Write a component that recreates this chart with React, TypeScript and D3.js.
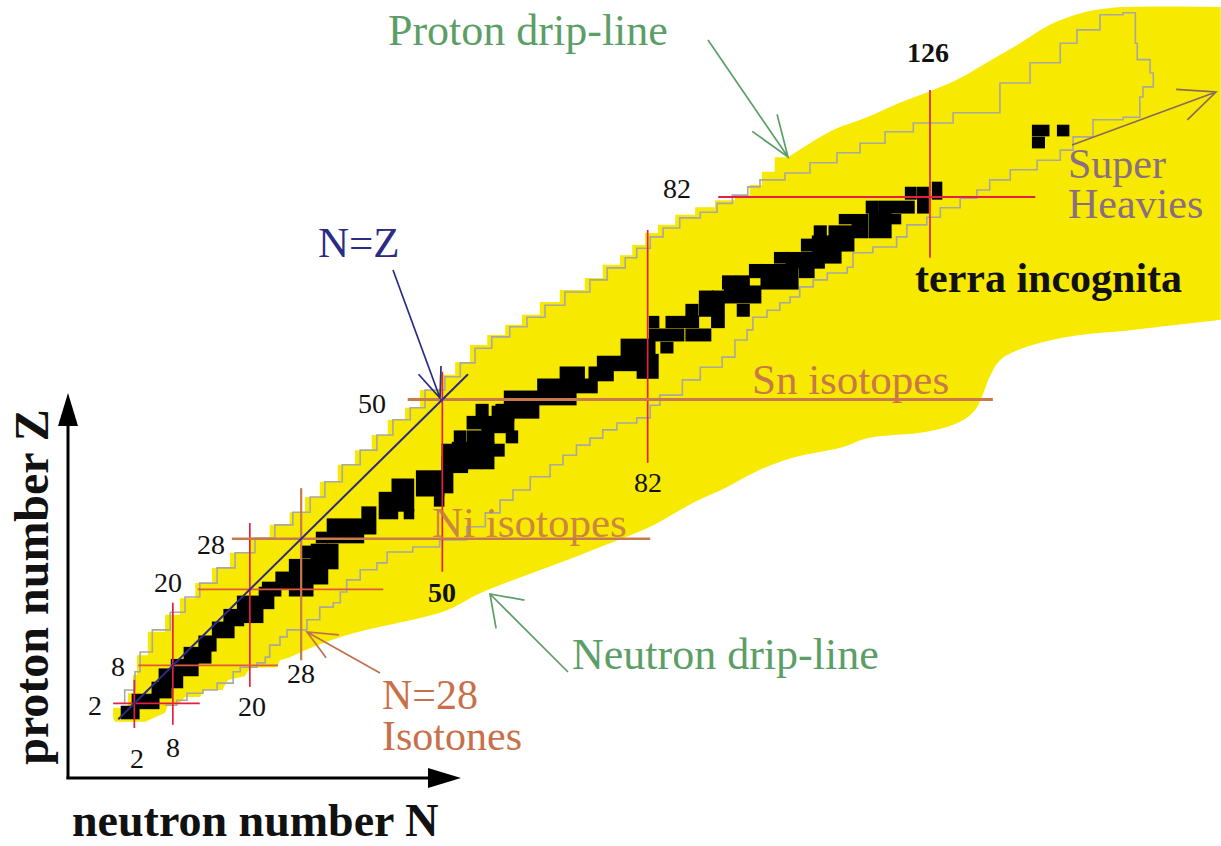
import React from "react";
import * as d3 from "d3";

type P = [number, number];
type Block = [number, number, number, number]; // N0, N1, Z0, Z1

const W = 1221;
const H = 846;

// ---- stable nuclei (black cells), in neutron number N / proton number Z ----
const stableBlocks: Block[] = [
  [0.1, 2.6, -0.3, 1.4], [1.8, 5.7, 1.3, 3.3], [4.9, 7.6, 3.0, 5.2], [6.0, 9.4, 4.6, 7.3],
  [7.9, 11.8, 6.5, 8.8], [9.9, 13.8, 8.5, 10.7], [12.2, 14.6, 10.4, 12.5], [14.3, 17.4, 12.5, 14.7],
  [16.1, 18.9, 14.4, 16.7], [18.2, 21.9, 14.9, 18.8], [21.6, 23.6, 17.1, 20.2], [22.1, 24.7, 19.1, 21.0],
  [24.2, 27.8, 20.2, 22.6], [26.3, 32.0, 21.0, 24.6], [26.3, 29.7, 19.1, 21.0], [28.3, 29.7, 25.1, 26.7],
  [29.7, 33.6, 23.4, 27.0], [30.5, 32.0, 27.5, 28.9], [32.2, 37.6, 27.5, 31.0], [37.6, 39.5, 28.9, 32.9],
  [40.3, 42.9, 31.3, 35.2], [42.3, 45.4, 32.5, 37.3], [44.2, 45.4, 31.3, 32.5], [46.1, 50.1, 34.9, 38.6],
  [48.9, 50.1, 33.3, 34.9], [50.1, 51.5, 35.4, 42.8], [50.1, 53.8, 38.6, 40.9], [54.0, 55.9, 39.2, 40.9],
  [56.2, 57.9, 39.2, 40.9], [51.7, 57.9, 41.2, 43.1], [57.9, 59.5, 41.2, 42.8], [52.0, 53.5, 43.3, 44.9],
  [54.0, 57.9, 43.3, 44.9], [60.1, 61.6, 43.3, 44.9], [56.3, 61.0, 44.9, 46.8], [54.0, 57.9, 45.5, 47.2],
  [57.9, 61.0, 46.8, 48.8], [55.4, 57.0, 47.2, 49.1], [58.5, 64.9, 47.2, 49.1], [59.8, 70.7, 49.3, 51.2],
  [65.0, 74.0, 51.2, 53.1], [68.5, 72.0, 53.1, 55.0], [73.0, 76.5, 53.1, 55.0], [80.5, 83.5, 53.5, 57.0],
  [74.3, 80.8, 54.7, 56.7], [78.0, 83.0, 56.9, 59.4], [84.2, 85.8, 57.5, 58.9],
  [82.4, 87.5, 59.4, 61.0], [88.1, 91.7, 59.4, 61.0], [82.4, 83.6, 61.5, 63.0], [85.0, 89.8, 61.5, 63.0],
  [92.1, 93.8, 61.5, 63.0], [88.1, 89.7, 63.0, 64.9], [90.2, 93.8, 63.3, 65.4], [96.1, 97.7, 63.3, 64.9],
  [90.2, 92.1, 65.4, 67.0], [92.2, 93.8, 65.4, 67.0], [94.1, 99.5, 65.4, 67.8], [93.8, 95.6, 67.6, 69.4],
  [95.9, 97.7, 67.6, 69.4], [99.8, 105.3, 67.6, 71.2], [98.0, 99.8, 69.4, 71.2], [105.8, 107.8, 69.4, 71.2],
  [103.7, 109.4, 70.9, 73.1], [101.9, 103.7, 71.7, 73.1], [107.8, 112.0, 71.7, 75.7], [106.1, 107.8, 73.6, 75.2],
  [110.4, 114.0, 73.6, 77.3], [108.1, 109.7, 75.7, 77.3], [114.0, 116.2, 75.7, 79.1], [112.0, 113.9, 77.9, 79.1],
  [116.7, 119.8, 75.7, 79.5], [120.1, 121.3, 77.9, 79.1], [116.2, 117.8, 79.6, 81.2], [118.2, 123.4, 79.6, 81.2],
  [122.3, 123.7, 81.8, 83.4], [124.2, 125.6, 79.6, 83.4], [126.5, 127.7, 81.8, 84.2],
];
const superHeavyBlocks: Block[] = [
  [142.1, 144.4, 91.8, 93.2], [146.0, 147.5, 91.8, 93.2], [142.1, 143.7, 89.9, 91.3],
];

// ---- drip lines (outline of the yellow region) ----
const protonDripStairs: P[] = [
  [-1.3, -0.3], [1.0, 1.3], [1.8, 3.6], [2.4, 6.5], [4.1, 9.6], [6.8, 13.3], [9.1, 16.0], [11.5, 18.6],
  [14.1, 21.0], [16.9, 23.4], [20.0, 25.8], [23.1, 28.2], [26.2, 30.2], [28.6, 32.2], [30.9, 34.6],
  [33.7, 37.0], [36.4, 39.7], [39.0, 42.0], [41.5, 44.4], [44.2, 46.8], [46.5, 48.7], [49.6, 51.5],
  [52.0, 53.9], [54.3, 55.9], [57.0, 58.6], [59.8, 60.2], [62.4, 61.8], [65.2, 63.4], [68.3, 65.4],
  [72.2, 67.3], [75.0, 69.2], [77.7, 71.3], [79.6, 72.8], [81.6, 74.4], [83.6, 76.3], [86.3, 77.6],
  [89.4, 79.2], [92.5, 80.4], [95.6, 81.5], [97.9, 82.3], [99.8, 83.9], [101.8, 86.0], [103.9, 88.3],
];
const protonDripSmooth: P[] = [
  [107.3, 90.5], [110.9, 92.6], [116.2, 94.6], [121.3, 96.9], [126.5, 98.9], [130.7, 100.8],
  [134.3, 102.9], [139.6, 106.0], [144.7, 109.2], [149.8, 111.1], [154.5, 111.9], [171.3, 112.0],
];
const neutronDripSmooth: P[] = [
  [171.3, 62.6], [157.6, 61.0], [147.3, 59.9], [139.6, 57.8], [136.9, 56.2], [135.3, 53.6], [134.3, 51.0],
  [133.0, 48.3], [130.7, 46.5], [125.5, 44.9], [116.2, 43.9], [112.4, 42.5], [104.6, 40.8], [99.5, 38.9],
  [94.4, 36.2], [89.1, 33.7], [82.4, 29.9], [76.1, 27.3], [68.3, 24.2], [55.9, 19.4], [50.7, 16.7],
  [45.4, 15.2], [40.3, 14.1], [34.1, 12.5], [29.8, 10.9], [26.3, 9.3],
];
const neutronDripStairs: P[] = [
  [24.7, 8.8], [24.2, 7.7], [20.0, 7.6], [19.2, 6.3], [16.6, 5.7], [15.7, 4.1], [13.0, 4.1], [12.2, 3.0],
  [9.9, 3.0], [9.1, 2.1], [7.2, 1.7], [6.8, 0.5], [3.7, -0.9], [-1.0, -0.9],
];

// ---- limit of known nuclei (grey staircase) ----
const knownLimit: P[] = [
  [0.5, 2.1], [2.1, 4.1], [2.9, 7.0], [4.8, 10.1], [7.6, 13.6], [9.9, 16.4], [12.2, 18.8], [14.9, 21.0],
  [17.7, 23.4], [20.8, 25.8], [23.9, 28.1], [26.7, 30.2], [29.4, 32.2], [31.7, 34.6], [34.4, 37.0],
  [37.2, 39.7], [39.8, 42.0], [42.3, 44.4], [45.0, 46.8], [47.3, 48.7], [50.4, 51.5], [52.8, 53.6],
  [55.1, 55.8], [57.7, 58.1], [60.5, 59.9], [63.2, 61.5], [66.0, 63.0], [69.1, 64.9], [73.0, 67.0],
  [75.7, 68.9], [78.5, 70.8], [80.3, 72.4], [82.4, 73.9], [84.4, 75.7], [87.0, 77.1], [90.2, 78.7],
  [92.8, 79.6], [95.2, 81.0], [97.6, 82.3], [99.5, 83.6], [103.4, 84.7], [107.3, 85.8], [111.5, 87.4],
  [115.1, 89.0], [119.0, 90.5], [123.4, 92.3], [129.6, 93.7], [136.9, 95.3], [141.6, 100.0],
  [146.3, 103.2], [148.9, 106.3], [152.5, 108.4], [156.1, 110.8], [158.0, 111.1],
  [158.3, 106.3], [160.3, 103.7], [160.8, 101.6], [159.2, 99.4], [158.7, 97.8], [156.1, 94.6],
  [151.4, 94.2], [148.3, 91.5], [146.3, 89.4], [142.7, 87.8], [138.5, 86.3], [135.3, 84.7], [133.3, 83.1],
  [130.7, 81.8], [127.6, 80.3], [125.5, 78.8], [122.4, 77.6], [120.8, 75.7], [117.1, 74.1], [114.0, 73.2],
  [113.1, 70.9], [110.0, 70.0], [107.8, 68.9], [105.7, 67.8], [104.2, 66.2], [102.6, 65.3], [100.6, 64.1],
  [98.4, 63.0], [97.5, 61.0], [95.6, 59.4], [93.6, 56.7], [90.2, 55.1], [87.4, 53.1], [83.9, 50.7],
  [82.4, 49.1], [80.3, 47.1], [77.2, 46.3], [75.0, 45.2], [73.0, 43.9], [70.9, 42.8], [68.8, 41.2],
  [66.8, 39.7], [63.7, 37.8], [61.0, 35.7], [59.0, 34.1], [56.7, 32.1], [53.8, 29.9], [49.6, 27.8],
  [45.4, 26.7], [41.4, 25.9], [39.8, 24.2], [37.2, 23.1], [35.1, 21.5], [34.1, 19.6], [33.0, 17.9],
  [30.9, 17.2], [28.9, 15.2], [25.8, 13.6], [24.7, 12.5], [23.1, 11.2], [22.4, 9.3], [21.1, 8.4],
  [18.5, 7.7], [17.4, 7.0], [14.9, 5.2], [12.7, 4.1], [10.2, 3.6], [8.6, 2.5], [6.8, 1.7],
];

// ---- magic numbers ----
const magicN = [2, 8, 20, 28, 50, 82, 126];
const magicNSpanZ: P[] = [[-1.9, 5.7], [-1.4, 17.9], [4.6, 30.5], [8.8, 36.0], [22.8, 54.4], [40.0, 76.8], [72.4, 98.9]];
const magicZ = [2, 8, 20, 28, 50, 82];
const magicZSpanN: P[] = [[-1.3, 12.2], [2.6, 24.4], [11.9, 40.8], [17.2, 82.4], [44.6, 135.8], [93.0, 142.4]];
const nEqualsZRange: P = [-0.5, 54];

const FONT = "'Liberation Serif', 'Times New Roman', Times, serif";
const YELLOW = "#f7e900";
const RED = "#e3203f";
const ORANGE_RED = "#e05a40";
const BROWN = "#c97a4c";
const GREEN = "#5b9e66";
const NAVY = "#2b2b86";
const MAUVE = "#8a6f80";
const GRAY = "#a8a8a2";
const CELL_PAD = 0.22; // visual padding of each black cell, in data units

const nLineColor = (n: number) => (n === 28 ? BROWN : RED);
const zLineColor = (z: number) => (z === 28 || z === 50 ? BROWN : z === 8 || z === 20 ? ORANGE_RED : RED);
const zLineWidth = (z: number) => (z === 50 ? 3 : z === 28 ? 2.5 : 1.8);

// label layout (pixels)
const leftLabels: [string, number, number, boolean][] = [
  ["2", 95, 705, false], ["8", 118, 666, false], ["20", 168, 582, false], ["28", 211, 544, false],
  ["50", 372, 403, false], ["82", 677, 188, false], ["126", 928, 52, true],
];
const bottomLabels: [string, number, number, boolean][] = [
  ["2", 137, 758, false], ["8", 173, 747, false], ["20", 252, 706, false], ["28", 301, 673, false],
  ["50", 442, 592, true], ["82", 648, 482, false],
];

function arrowPath(x1: number, y1: number, x2: number, y2: number, len: number, angDeg: number) {
  const a = Math.atan2(y1 - y2, x1 - x2);
  const t = (angDeg * Math.PI) / 180;
  const b1 = [x2 + len * Math.cos(a + t), y2 + len * Math.sin(a + t)];
  const b2 = [x2 + len * Math.cos(a - t), y2 + len * Math.sin(a - t)];
  return `M${x1},${y1}L${x2},${y2}M${b1[0]},${b1[1]}L${x2},${y2}L${b2[0]},${b2[1]}`;
}

export default function App() {
  const x = d3.scaleLinear().domain([0, 126]).range([121.5, 930]);
  const y = d3.scaleLinear().domain([0, 82]).range([716, 197]);

  const lineStep = d3.line<P>().x((d) => x(d[0])).y((d) => y(d[1])).curve(d3.curveStepBefore);
  const lineSmooth = d3.line<P>().x((d) => x(d[0])).y((d) => y(d[1])).curve(d3.curveCatmullRom.alpha(0.5));
  const lineLin = d3.line<P>().x((d) => x(d[0])).y((d) => y(d[1]));

  const toL = (s: string | null) => (s || "").replace(/^M/, "L");
  const yellowD =
    (lineStep(protonDripStairs) || "") +
    toL(lineSmooth([protonDripStairs[protonDripStairs.length - 1], ...protonDripSmooth])) +
    toL(lineSmooth(neutronDripSmooth)) +
    toL(lineLin(neutronDripStairs)) +
    "Z";

  const knownD = lineStep(knownLimit) || "";

  const rect = (b: Block, i: number) => (
    <rect
      key={i}
      x={x(b[0] - CELL_PAD)}
      y={y(b[3] + CELL_PAD)}
      width={x(b[1] + CELL_PAD) - x(b[0] - CELL_PAD)}
      height={y(b[2] - CELL_PAD) - y(b[3] + CELL_PAD)}
      fill="#000"
    />
  );

  return (
    <svg width={W} height={H} style={{ position: "absolute", left: 0, top: 0, background: "#fff" }}>
      <rect x={0} y={0} width={W} height={H} fill="#fff" />
      <path d={yellowD} fill={YELLOW} stroke="none" />
      <path d={knownD} fill="none" stroke={GRAY} strokeWidth={1.6} />

      <g>{stableBlocks.map(rect)}</g>
      <g>{superHeavyBlocks.map(rect)}</g>

      {/* magic number lines */}
      {magicN.map((n, i) => (
        <line
          key={"n" + n}
          x1={x(n)}
          x2={x(n)}
          y1={y(magicNSpanZ[i][0])}
          y2={y(magicNSpanZ[i][1])}
          stroke={nLineColor(n)}
          strokeWidth={n === 28 ? 2.2 : 1.7}
        />
      ))}
      {magicZ.map((z, i) => (
        <line
          key={"z" + z}
          x1={x(magicZSpanN[i][0])}
          x2={x(magicZSpanN[i][1])}
          y1={y(z)}
          y2={y(z)}
          stroke={zLineColor(z)}
          strokeWidth={zLineWidth(z)}
        />
      ))}

      {/* N = Z line */}
      <line
        x1={x(nEqualsZRange[0])}
        y1={y(nEqualsZRange[0])}
        x2={x(nEqualsZRange[1])}
        y2={y(nEqualsZRange[1])}
        stroke={NAVY}
        strokeWidth={2}
      />

      {/* magic number labels */}
      {[...leftLabels, ...bottomLabels].map(([t, lx, ly, bold], i) => (
        <text
          key={"l" + i}
          x={lx}
          y={ly}
          textAnchor="middle"
          dominantBaseline="central"
          fontFamily={FONT}
          fontSize={28}
          fontWeight={bold ? "bold" : "normal"}
          fill="#111"
        >
          {t}
        </text>
      ))}

      {/* annotations */}
      <g fontFamily={FONT} fontSize={43}>
        <text x={388} y={45} fill={GREEN} fontSize={44}>Proton drip-line</text>
        <text x={572} y={669} fill={GREEN} fontSize={44}>Neutron drip-line</text>
        <text x={382} y={709} fill="#c8704a" fontSize={42}>N=28</text>
        <text x={382} y={750} fill="#c8704a" fontSize={42}>Isotones</text>
        <text x={752} y={394} fill="#c8784a">Sn isotopes</text>
        <text x={432} y={537} fill="#c8784a" fillOpacity={0.9}>Ni isotopes</text>
        <text x={1068} y={178} fill={MAUVE} fontSize={42}>Super</text>
        <text x={1068} y={218} fill={MAUVE} fontSize={42}>Heavies</text>
        <text x={318} y={257} fill={NAVY}>N=Z</text>
        <text x={915} y={292} fill="#111" fontSize={42} fontWeight="bold">terra incognita</text>
      </g>

      {/* arrows */}
      <g fill="none" strokeWidth={1.7}>
        <path d={arrowPath(393, 270, 440, 398, 32, 22)} stroke={NAVY} />
        <path d={arrowPath(708, 40, 788, 157, 44, 20)} stroke={GREEN} />
        <path d={arrowPath(568, 672, 490, 594, 35, 35)} stroke={GREEN} />
        <path d={arrowPath(380, 673, 307, 632, 32, 24)} stroke="#c0704a" />
        <path d={arrowPath(1072, 145, 1216, 92, 40, 24)} stroke="#8b6a5e" />
      </g>

      {/* axes */}
      <g>
        <line x1={68} y1={779} x2={68} y2={420} stroke="#000" strokeWidth={3} />
        <path d="M68,393L58,426L78,426Z" fill="#000" />
        <line x1={66.5} y1={778} x2={432} y2={778} stroke="#000" strokeWidth={3} />
        <path d="M461,778L428,768L428,788Z" fill="#000" />
      </g>
      <text
        transform="translate(48,587) rotate(-90)"
        textAnchor="middle"
        fontFamily={FONT}
        fontSize={48}
        fontWeight="bold"
        fill="#111"
      >
        proton number Z
      </text>
      <text x={72} y={836} fontFamily={FONT} fontSize={46} fontWeight="bold" fill="#111">
        neutron number N
      </text>
    </svg>
  );
}
